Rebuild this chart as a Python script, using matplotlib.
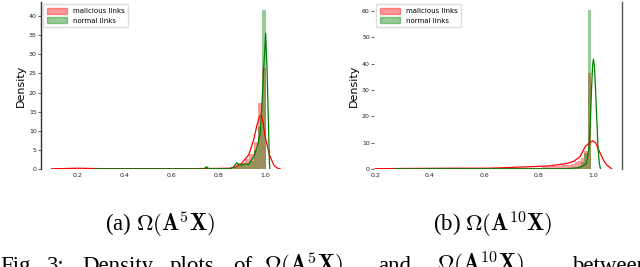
import numpy as np
import matplotlib
matplotlib.use("Agg")
import matplotlib.pyplot as plt
from matplotlib.patches import Patch

# ---- data ----
labels = ["malicious links", "normal links"]

# panel (a): histogram bins (width 0.018) and heights
bins_a = np.arange(0.087, 1.006, 0.018)
red_hist_a = [0.15, 0.2, 0.2, 0.15, 0.15, 0.15, 0.1, 0.1, 0.1, 0.1,
              0.1, 0.1, 0.1, 0.1, 0.1, 0.1, 0.1, 0.1, 0.1, 0.1,
              0.1, 0.1, 0.1, 0.1, 0.1, 0.1, 0.1, 0.1, 0.1, 0.1,
              0.1, 0.1, 0.1, 0.1, 0.1, 0.1, 0.1, 0.15, 0.15, 0.2,
              0.2, 0.25, 0.3, 0.6, 1.0, 1.5, 2.5, 4.0, 7.0, 17.3, 26.4]
green_hist_a = [0.0, 0.0, 0.0, 0.0, 0.0, 0.0, 0.0, 0.0, 0.0, 0.0,
                0.05, 0.05, 0.05, 0.05, 0.05, 0.05, 0.05, 0.05, 0.05, 0.05,
                0.05, 0.05, 0.05, 0.05, 0.05, 0.05, 0.05, 0.05, 0.05, 0.05,
                0.05, 0.05, 0.05, 0.05, 0.05, 0.05, 0.3, 0.05, 0.05, 0.05,
                0.05, 0.05, 0.1, 0.5, 1.4, 1.3, 1.2, 2.2, 5.0, 11.0, 41.7]

red_kde_a_x = [0.09, 0.2, 0.3, 0.4, 0.5, 0.6, 0.7, 0.8, 0.85, 0.872, 0.9, 0.93,
               0.951, 0.965, 0.975, 0.983, 0.99, 1.0, 1.01, 1.018, 1.037, 1.05, 1.064]
red_kde_a_y = [0.05, 0.2, 0.1, 0.1, 0.1, 0.1, 0.1, 0.15, 0.2, 0.5, 1.5, 3.7,
               7.6, 11.5, 13.6, 14.1, 12.5, 8.4, 5.8, 3.7, 1.0, 0.3, 0.0]
green_kde_a_x = [0.27, 0.5, 0.74, 0.75, 0.76, 0.85, 0.865, 0.878, 0.89, 0.9, 0.915,
                 0.93, 0.951, 0.966, 0.979, 0.987, 0.994, 1.002, 1.008, 1.013,
                 1.018, 1.02]
green_kde_a_y = [0.05, 0.05, 0.05, 0.6, 0.05, 0.1, 0.5, 1.6, 1.2, 1.0, 1.4,
                 1.2, 3.2, 5.8, 9.4, 18.0, 26.7, 35.5, 26.0, 14.0, 2.0, 0.0]

# panel (b): histogram bins (width 0.012) and heights
bins_b = np.arange(0.236, 1.005, 0.012)
red_hist_b = [0.2] * 30 + [0.3] * 10 + [0.5] * 8 + [0.7, 0.8, 0.9, 1.0, 1.1, 1.2,
              1.4, 1.5, 1.7, 2.0, 2.5, 3.0, 4.0, 7.0, 36.6]
green_hist_b = [0.05] * 40 + [0.1] * 8 + [0.1, 0.15, 0.15, 0.2, 0.2, 0.25,
                0.3, 0.35, 0.4, 0.5, 0.8, 1.2, 2.5, 6.0, 60.4]

red_kde_b_x = [0.2, 0.3, 0.4, 0.5, 0.6, 0.65, 0.7, 0.8, 0.842, 0.904, 0.93, 0.952,
               0.971, 0.985, 0.999, 1.01, 1.026, 1.04, 1.05, 1.069]
red_kde_b_y = [0.1, 0.2, 0.25, 0.3, 0.3, 0.4, 0.6, 1.0, 1.2, 2.1, 3.0, 4.7,
               8.5, 9.8, 10.7, 9.8, 6.0, 3.0, 1.5, 0.0]
green_kde_b_x = [0.27, 0.5, 0.7, 0.9, 0.95, 0.975, 0.985, 0.99, 0.994, 0.998,
                 1.001, 1.005, 1.009, 1.013, 1.018, 1.023, 1.027]
green_kde_b_y = [0.05, 0.1, 0.1, 0.1, 0.5, 2.0, 8.0, 18.0, 30.0, 39.0,
                 41.7, 39.0, 30.0, 20.0, 8.0, 2.0, 0.0]

sub_captions = [r"(a) $\Omega(\mathbf{A}^5\mathbf{X})$",
                r"(b) $\Omega(\mathbf{A}^{10}\mathbf{X})$"]
# figure caption words (justified line, cut off at the bottom of the crop)
fig_caption_words = ["Fig.", "3:", "Density", "plots", "of",
                     r"$\Omega(\mathbf{A}^5\mathbf{X})$", "and",
                     r"$\Omega(\mathbf{A}^{10}\mathbf{X})$", "between"]

plt.rcParams["mathtext.fontset"] = "cm"

W, H = 640, 267
fig = plt.figure(figsize=(W / 100, H / 100), dpi=100)


def px_axes(x0, x1, y0, y1):
    return fig.add_axes([x0 / W, 1 - y1 / H, (x1 - x0) / W, (y1 - y0) / H])


def draw(ax, bins, rh, gh, rkx, rky, gkx, gky):
    width = bins[1] - bins[0]
    ax.bar(bins[:len(rh)], rh, width=width, align="edge", color="red",
           alpha=0.4, linewidth=0)
    ax.bar(bins[:len(gh)], gh, width=width, align="edge", color="green",
           alpha=0.4, linewidth=0)
    ax.plot(rkx, rky, color="red", lw=0.9)
    ax.plot(gkx, gky, color="green", lw=0.9)
    ax.set_ylabel("Density", fontsize=8, labelpad=2)
    ax.set_xticks([0.2, 0.4, 0.6, 0.8, 1.0])
    ax.tick_params(axis="both", labelsize=4.5, colors="#222222", pad=1)
    ax.tick_params(axis="x", length=0, pad=3)
    ax.tick_params(axis="y", length=2, width=0.5)
    ax.legend(handles=[Patch(color="red", alpha=0.4, label=labels[0]),
                       Patch(color="green", alpha=0.4, label=labels[1])],
              loc="upper left", fontsize=5, frameon=True, borderpad=0.5,
              handlelength=3.0, handleheight=1.0, labelspacing=0.45,
              borderaxespad=0.3, fancybox=False, edgecolor="#dddddd",
              framealpha=1)
    for s in ("top", "bottom"):
        ax.spines[s].set_visible(False)


ax1 = px_axes(41, 291, 2, 169)
draw(ax1, bins_a, red_hist_a, green_hist_a,
     red_kde_a_x, red_kde_a_y, green_kde_a_x, green_kde_a_y)
ax1.set_xlim(0.045, 1.11)
ax1.set_ylim(0, 43.7)
ax1.set_yticks(range(0, 45, 5))
ax1.spines["right"].set_visible(False)
ax1.spines["left"].set_color("#333333")
ax1.spines["left"].set_linewidth(1.0)

ax2 = px_axes(374, 622, 2, 169)
draw(ax2, bins_b, red_hist_b, green_hist_b,
     red_kde_b_x, red_kde_b_y, green_kde_b_x, green_kde_b_y)
ax2.set_xlim(0.196, 1.106)
ax2.set_ylim(0, 63.4)
ax2.set_yticks(range(0, 61, 10))
ax2.spines["left"].set_visible(False)
ax2.spines["right"].set_color("#555555")
ax2.spines["right"].set_linewidth(1.0)

txt = dict(family="Liberation Serif", va="baseline", fontsize=16.5)

for cap, xc in zip(sub_captions, [160, 493]):
    fig.text(xc / W, 1 - 231 / H, cap, ha="center", **txt)

# figure caption line, mostly below the crop
word_x = [0, 47, 82, 170, 233, 264, 378, 437, 572]
for word, x in zip(fig_caption_words, word_x):
    fig.text(x / W, 1 - 272 / H, word, ha="left", **txt)

fig.savefig("out.png", dpi=100)
